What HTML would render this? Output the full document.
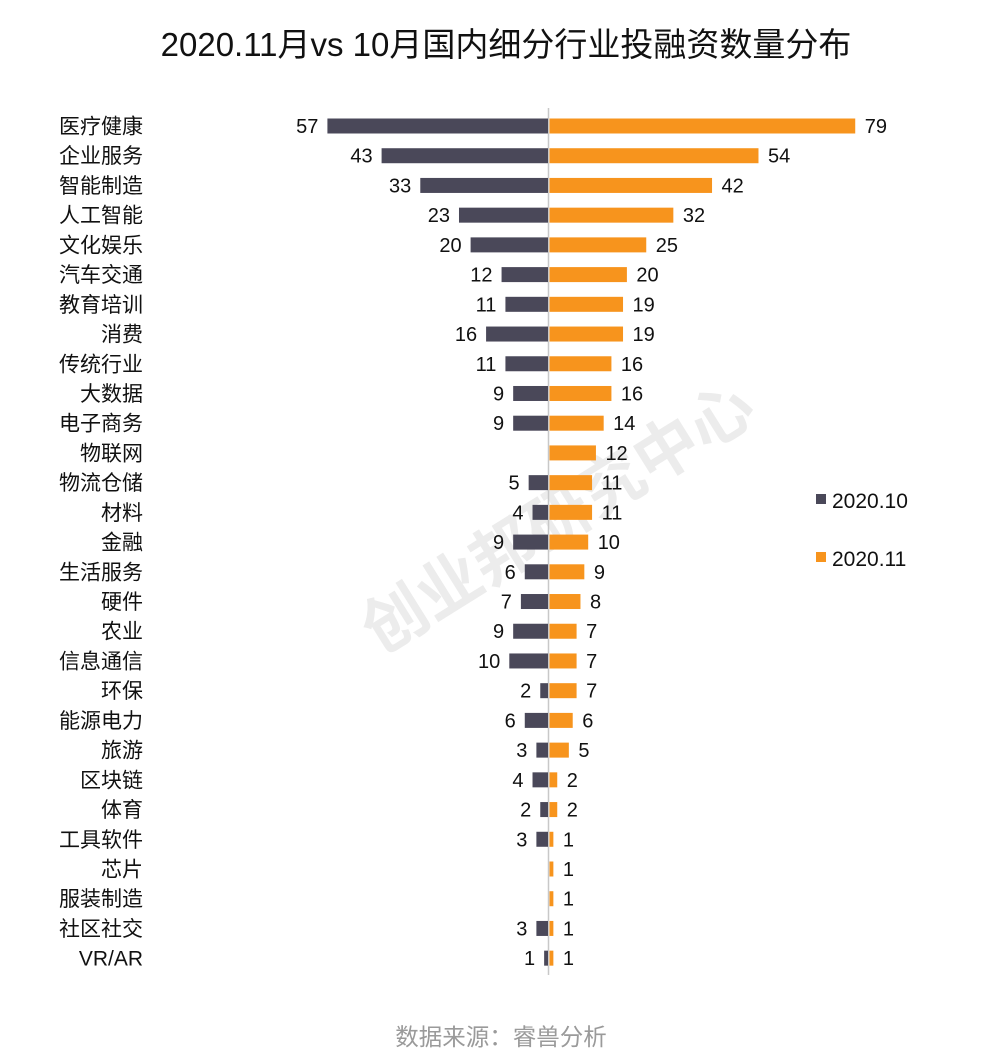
<!DOCTYPE html>
<html><head><meta charset="utf-8"><style>
html,body{margin:0;padding:0;background:#fff;}
svg{display:block;font-family:"Liberation Sans","Noto Sans CJK SC",sans-serif;}
</style></head><body>
<svg width="1000" height="1059" viewBox="0 0 1000 1059" xmlns="http://www.w3.org/2000/svg">
<text x="506" y="56" font-size="33" text-anchor="middle" fill="#111">2020.11月vs 10月国内细分行业投融资数量分布</text>
<text x="558" y="540" font-size="64" font-weight="bold" fill="#ececec" text-anchor="middle" transform="rotate(-32 558 518)">创业邦研究中心</text>
<line x1="548.5" y1="108" x2="548.5" y2="975" stroke="#c8c8c8" stroke-width="1.5"/>
<g id="rows"></g>
<rect x="816" y="494" width="10" height="10" fill="#4a4859"/>
<text x="832" y="508" font-size="21" fill="#111">2020.10</text>
<rect x="816" y="552" width="10" height="10" fill="#f7941d"/>
<text x="832" y="566" font-size="21" fill="#111">2020.11</text>
<text x="501" y="1045" font-size="23.5" text-anchor="middle" fill="#9a9a9a">数据来源：睿兽分析</text>
</svg>
<script>
var d=[["医疗健康",57,79],["企业服务",43,54],["智能制造",33,42],["人工智能",23,32],["文化娱乐",20,25],["汽车交通",12,20],["教育培训",11,19],["消费",16,19],["传统行业",11,16],["大数据",9,16],["电子商务",9,14],["物联网",0,12],["物流仓储",5,11],["材料",4,11],["金融",9,10],["生活服务",6,9],["硬件",7,8],["农业",9,7],["信息通信",10,7],["环保",2,7],["能源电力",6,6],["旅游",3,5],["区块链",4,2],["体育",2,2],["工具软件",3,1],["芯片",0,1],["服装制造",0,1],["社区社交",3,1],["VR/AR",1,1]];
var s="",k=3.87,c=548;
d.forEach(function(r,i){var y=126+i*29.72;
s+='<text x="143" y="'+(y+7.5)+'" font-size="21" text-anchor="end" fill="#111">'+r[0]+'</text>';
if(r[1]){var w=r[1]*k;s+='<rect x="'+(c-w)+'" y="'+(y-7.5)+'" width="'+w+'" height="15" fill="#4a4859"/>';
s+='<text x="'+(c-w-9)+'" y="'+(y+7)+'" font-size="20" text-anchor="end" fill="#111">'+r[1]+'</text>';}
var w2=r[2]*k;s+='<rect x="'+(c+1.5)+'" y="'+(y-7.5)+'" width="'+w2+'" height="15" fill="#f7941d"/>';
s+='<text x="'+(c+w2+11)+'" y="'+(y+7)+'" font-size="20" fill="#111">'+r[2]+'</text>';});
document.getElementById("rows").innerHTML=s;
</script>
</body></html>
